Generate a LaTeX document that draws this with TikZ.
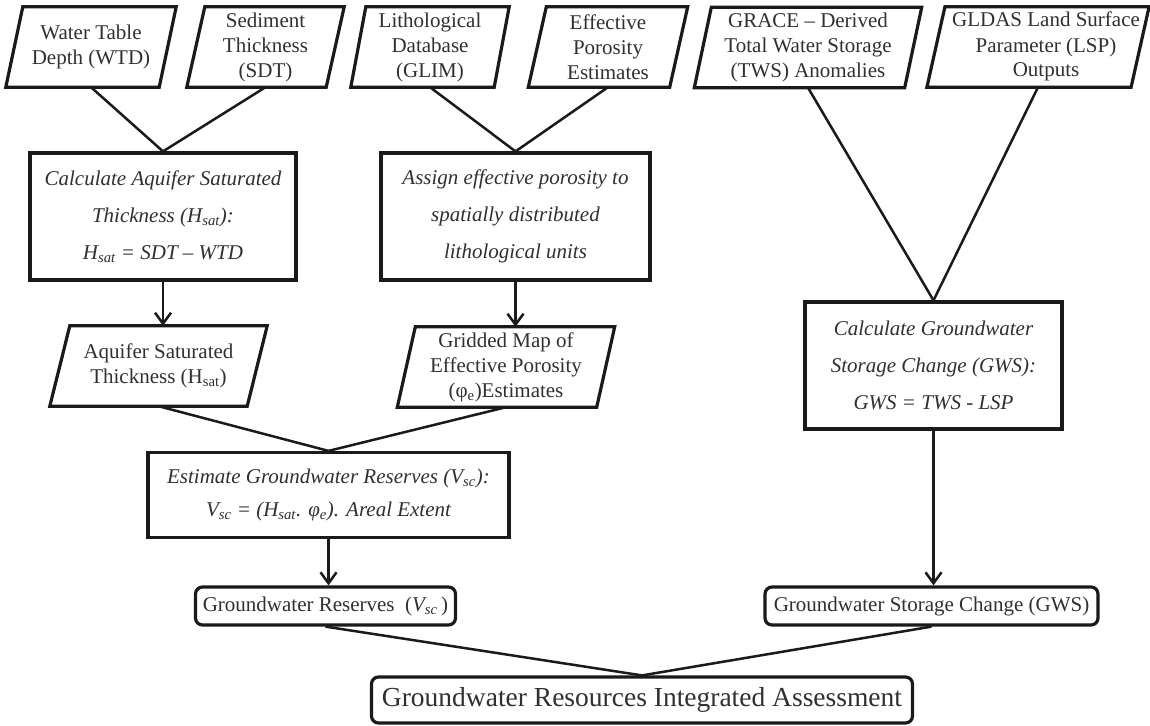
\documentclass[tikz,border=0pt]{standalone}
\usepackage{fontspec}
\setmainfont{Liberation Serif}
\usetikzlibrary{arrows.meta}
\definecolor{lc}{HTML}{1A1A1A}
\definecolor{tc}{HTML}{303030}
\tikzset{
  boxline/.style={draw=lc, line width=3.2pt, line join=miter},
  ptext/.style={align=center, inner sep=0pt, text=tc, font=\fontsize{21}{25}\selectfont, minimum height=80},
  procbox/.style={boxline, align=center, inner sep=0pt, text=tc, font=\fontsize{21}{37}\selectfont\itshape},
  rbox/.style={boxline, rounded corners=7pt, align=center, inner sep=0pt, text=tc, font=\fontsize{21}{25}\selectfont},
  conn/.style={draw=lc, line width=2.5pt},
  arr/.style={conn, -{Straight Barb[length=11pt,width=16pt]}},
}
% name, cx, cy, width, half slant, text
\newcommand{\pgram}[6]{%
  \node[ptext, minimum width=#4] (#1) at (#2,#3) {#6};
  \draw[boxline] ([xshift=#5]#1.north west) -- ([xshift=#5]#1.north east)
    -- ([xshift=-#5]#1.south east) -- ([xshift=-#5]#1.south west) -- cycle;
}
\begin{document}
\begin{tikzpicture}[x=1pt,y=-1pt]
\useasboundingbox[fill=white] (0,0) rectangle (1150,725);

% top inputs
\pgram{wtd}{91}{47}{153}{8.5}{Water Table\\Depth (WTD)}
\pgram{sdt}{265.5}{47}{139}{9}{Sediment\\Thickness\\(SDT)}
\pgram{glim}{430}{47}{143}{7.5}{Lithological\\Database\\(GLIM)}
\pgram{effp}{608}{47}{141}{9}{Effective\\Porosity\\Estimates}
\pgram{grace}{808}{47.5}{210}{8.5}{GRACE – Derived\\Total Water Storage\\(TWS) Anomalies}
\pgram{gldas}{1038}{47}{202}{9}{\hspace*{16pt}\begin{tabular}{@{}c@{}}GLDAS Land Surface\\Parameter (LSP)\\Outputs\end{tabular}}

% process boxes
\node[procbox, minimum width=266, minimum height=127] (calcH) at (163,216.5)
  {Calculate Aquifer Saturated\\Thickness (H\textsubscript{sat}):\\H\textsubscript{sat} = SDT – WTD};
\node[procbox, minimum width=269, minimum height=127] (assign) at (515.5,216.5)
  {Assign effective porosity to\\spatially distributed\\lithological units};
\node[procbox, minimum width=257, minimum height=127] (calcG) at (933.5,365.5)
  {Calculate Groundwater\\Storage Change (GWS):\\GWS = TWS - LSP};

% intermediate outputs
\pgram{aquif}{158.5}{366}{197}{10}{Aquifer Saturated\\Thickness (H\textsubscript{sat})}
\pgram{grid}{506}{367}{199}{9}{Gridded Map of\\Effective Porosity\\(φ\textsubscript{e})Estimates}

\node[procbox, font=\fontsize{21}{33}\selectfont\itshape, minimum width=361, minimum height=85] (est) at (328.5,495)
  {Estimate Groundwater Reserves (V\textsubscript{sc}):\\V\textsubscript{sc} = (H\textsubscript{sat}. φ\textsubscript{e}). Areal Extent};

% results
\node[rbox, minimum width=260, minimum height=38] (gres) at (325.5,606)
  {Groundwater Reserves~~(\textit{V\textsubscript{sc}}\,)};
\node[rbox, minimum width=333, minimum height=38] (gsc) at (931.5,606)
  {Groundwater Storage Change (GWS)};
\node[rbox, font=\fontsize{27.5}{30}\selectfont, minimum width=541, minimum height=46] (final) at (642,700)
  {Groundwater Resources Integrated Assessment};

% connectors
\draw[conn] (wtd.south) -- (calcH.north);
\draw[conn] (sdt.south) -- (calcH.north);
\draw[conn] (glim.south) -- (assign.north);
\draw[conn] (effp.south) -- (assign.north);
\draw[conn] (grace.south) -- (calcG.north);
\draw[conn] (gldas.south) -- (calcG.north);
\draw[arr] (calcH.south) -- (calcH.south |- aquif.north);
\draw[arr] (assign.south) -- (assign.south |- grid.north);
\draw[conn] (aquif.south) -- (est.north);
\draw[conn] (grid.south) -- (est.north);
\draw[arr] (est.south) -- (est.south |- gres.north);
\draw[arr] (calcG.south) -- (calcG.south |- gsc.north);
\draw[conn] (gres.south) -- (final.north);
\draw[conn] (gsc.south) -- (final.north);
\end{tikzpicture}
\end{document}
